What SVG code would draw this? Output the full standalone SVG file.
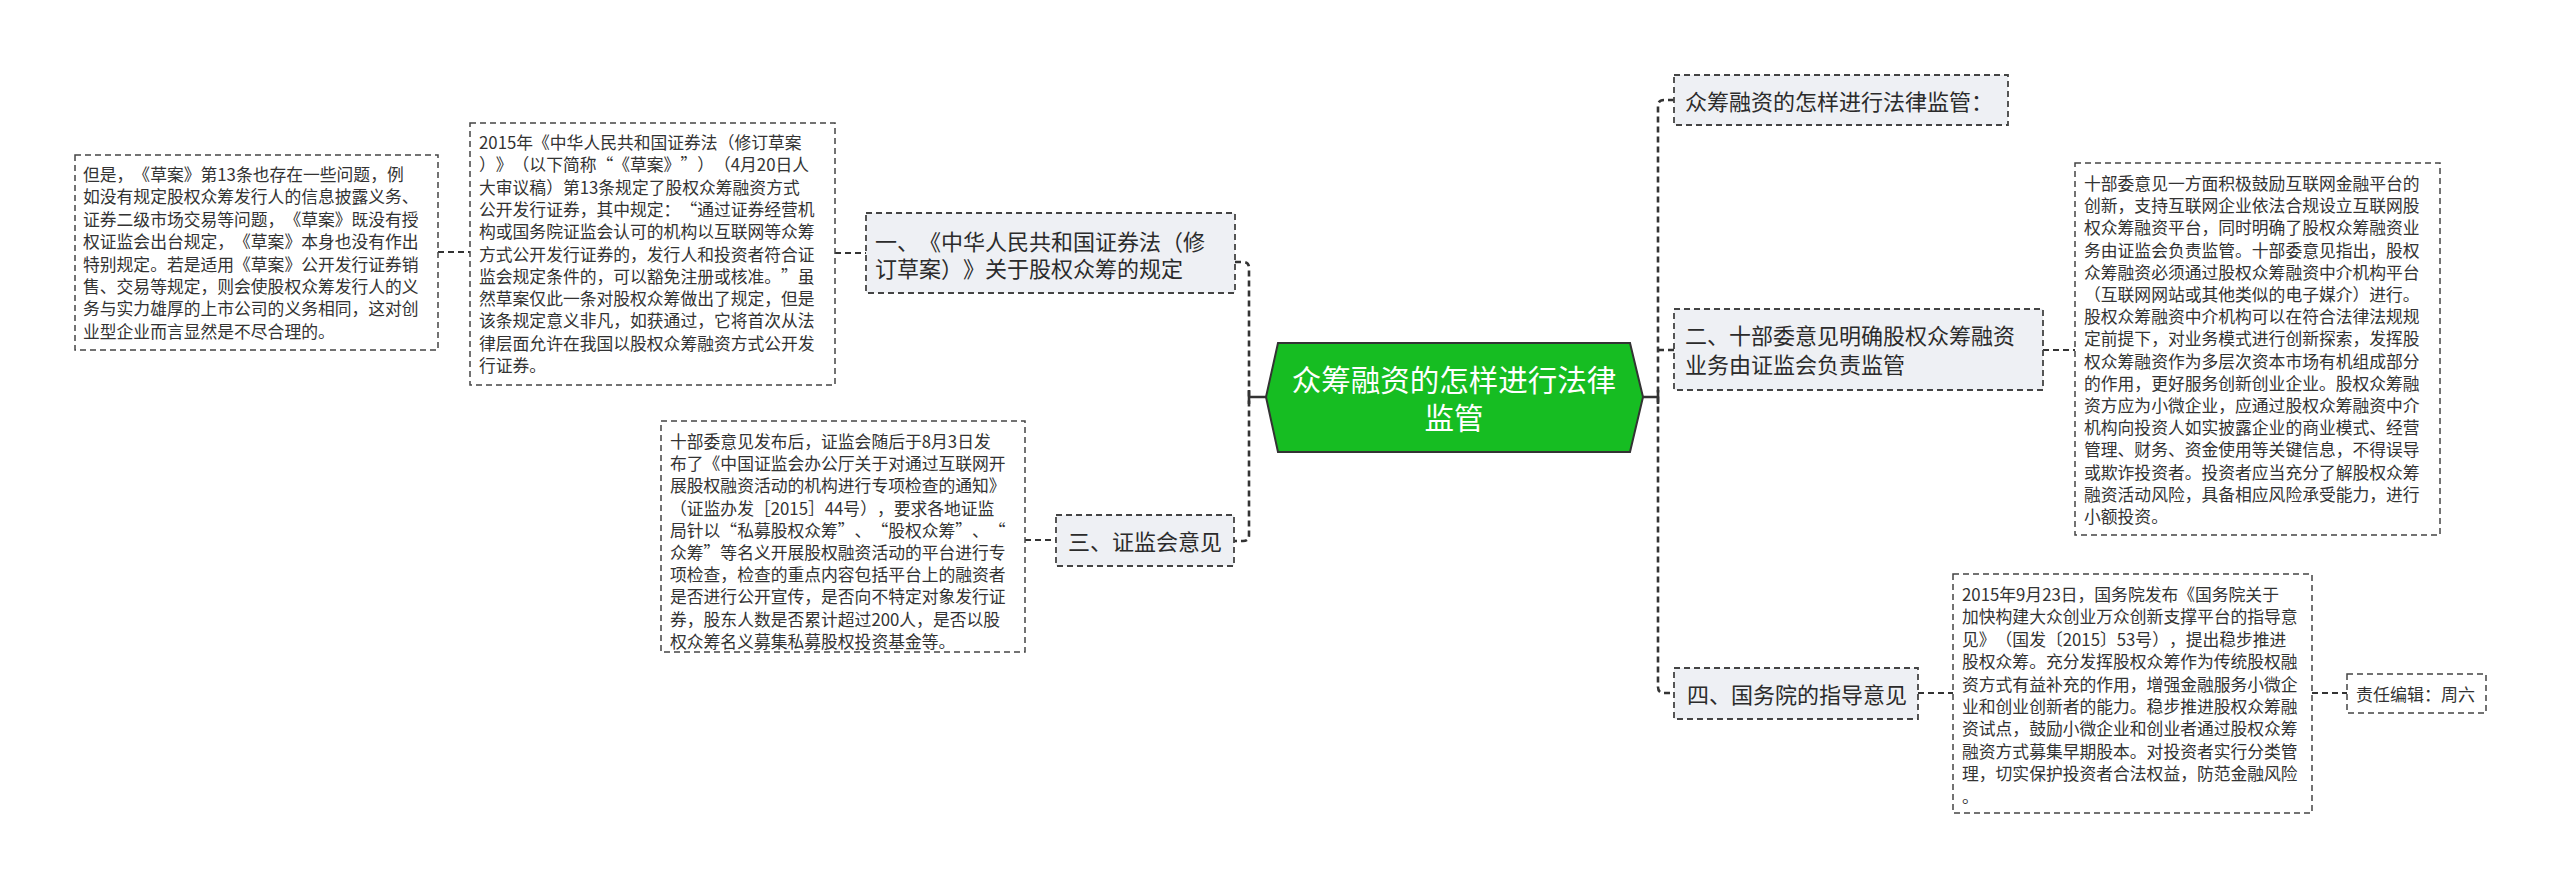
<svg xmlns="http://www.w3.org/2000/svg" width="2560" height="888" viewBox="0 0 2560 888" xml:lang="zh-CN" lang="zh-CN">
<style>
text{font-family:"Noto Sans CJK SC","Noto Sans",sans-serif;text-spacing-trim:space-all;}
.leaf{fill:#ffffff;stroke:#444;stroke-width:1.5;stroke-dasharray:6 4;}
.node{fill:#eef0f4;stroke:#444;stroke-width:1.8;stroke-dasharray:6 4;}
.lt{font-size:16.8px;fill:#333;}
.nt{font-size:22px;fill:#2b2b2b;}
.ct{font-size:29.5px;fill:#ffffff;text-anchor:middle;}
.con{fill:none;stroke:#333;stroke-width:2;stroke-dasharray:6 4;}
.main{fill:none;stroke:#333;stroke-width:2.6;stroke-dasharray:6 4;}
.solid{fill:none;stroke:#333;stroke-width:2.6;}
</style>
<rect width="2560" height="888" fill="#ffffff"/>
<g id="connectors">
<path class="con" d="M438,252 H470"/>
<path class="con" d="M835,253 H866"/>
<path class="main" d="M1235,262 H1243 Q1249,262 1249,268 V535 Q1249,541 1243,541 H1234"/>
<path class="con" d="M1025,540 H1056"/>
<path class="solid" d="M1249,397 H1266 M1249,390 V404"/>
<path class="solid" d="M1643,397 H1658 M1658,390 V404"/>
<path class="main" d="M1674,100 H1664 Q1658,100 1658,106 V687 Q1658,693 1664,693 H1674 M1658,350 H1674"/>
<path class="con" d="M2043,350 H2075"/>
<path class="con" d="M1918,693 H1953"/>
<path class="con" d="M2312,693 H2347"/>
</g>
<g id="center">
<polygon points="1266,397 1278,343 1630,343 1643,397 1630,452 1278,452" fill="#16bd22" stroke="#333" stroke-width="2"/>
<text class="ct" x="1454" y="390.5">众筹融资的怎样进行法律</text>
<text class="ct" x="1454" y="428.5">监管</text>
</g>
<g id="n1">
<rect class="node" x="866" y="213" width="369" height="80"/>
<text class="nt" x="875" y="250">一、《中华人民共和国证券法（修</text>
<text class="nt" x="875" y="277">订草案）》关于股权众筹的规定</text>
</g>
<g id="n1a">
<rect class="leaf" x="470" y="123" width="365" height="262"/>
<text class="lt">
<tspan x="479" y="149">2015年《中华人民共和国证券法（修订草案</tspan>
<tspan x="479" y="171.3">）》（以下简称“《草案》”）（4月20日人</tspan>
<tspan x="479" y="193.6">大审议稿）第13条规定了股权众筹融资方式</tspan>
<tspan x="479" y="215.9">公开发行证券，其中规定：“通过证券经营机</tspan>
<tspan x="479" y="238.2">构或国务院证监会认可的机构以互联网等众筹</tspan>
<tspan x="479" y="260.5">方式公开发行证券的，发行人和投资者符合证</tspan>
<tspan x="479" y="282.8">监会规定条件的，可以豁免注册或核准。”虽</tspan>
<tspan x="479" y="305.1">然草案仅此一条对股权众筹做出了规定，但是</tspan>
<tspan x="479" y="327.4">该条规定意义非凡，如获通过，它将首次从法</tspan>
<tspan x="479" y="349.7">律层面允许在我国以股权众筹融资方式公开发</tspan>
<tspan x="479" y="372">行证券。</tspan>
</text>
</g>
<g id="n1b">
<rect class="leaf" x="75" y="155" width="363" height="195"/>
<text class="lt">
<tspan x="83" y="181">但是，《草案》第13条也存在一些问题，例</tspan>
<tspan x="83" y="203.4">如没有规定股权众筹发行人的信息披露义务、</tspan>
<tspan x="83" y="225.8">证券二级市场交易等问题，《草案》既没有授</tspan>
<tspan x="83" y="248.2">权证监会出台规定，《草案》本身也没有作出</tspan>
<tspan x="83" y="270.6">特别规定。若是适用《草案》公开发行证券销</tspan>
<tspan x="83" y="293">售、交易等规定，则会使股权众筹发行人的义</tspan>
<tspan x="83" y="315.4">务与实力雄厚的上市公司的义务相同，这对创</tspan>
<tspan x="83" y="337.8">业型企业而言显然是不尽合理的。</tspan>
</text>
</g>
<g id="n3">
<rect class="node" x="1056" y="515" width="178" height="51"/>
<text class="nt" x="1068" y="550">三、证监会意见</text>
</g>
<g id="n3a">
<rect class="leaf" x="661" y="421" width="364" height="231"/>
<text class="lt">
<tspan x="670" y="448">十部委意见发布后，证监会随后于8月3日发</tspan>
<tspan x="670" y="470.2">布了《中国证监会办公厅关于对通过互联网开</tspan>
<tspan x="670" y="492.4">展股权融资活动的机构进行专项检查的通知》</tspan>
<tspan x="670" y="514.6">（证监办发［2015］44号），要求各地证监</tspan>
<tspan x="670" y="536.8">局针以“私募股权众筹”、“股权众筹”、“</tspan>
<tspan x="670" y="559">众筹”等名义开展股权融资活动的平台进行专</tspan>
<tspan x="670" y="581.2">项检查，检查的重点内容包括平台上的融资者</tspan>
<tspan x="670" y="603.4">是否进行公开宣传，是否向不特定对象发行证</tspan>
<tspan x="670" y="625.6">券，股东人数是否累计超过200人，是否以股</tspan>
<tspan x="670" y="647.8">权众筹名义募集私募股权投资基金等。</tspan>
</text>
</g>
<g id="n0">
<rect class="node" x="1674" y="75" width="334" height="50"/>
<text class="nt" x="1685" y="110">众筹融资的怎样进行法律监管：</text>
</g>
<g id="n2">
<rect class="node" x="1674" y="309" width="369" height="81"/>
<text class="nt" x="1685" y="344">二、十部委意见明确股权众筹融资</text>
<text class="nt" x="1685" y="373">业务由证监会负责监管</text>
</g>
<g id="n2a">
<rect class="leaf" x="2075" y="163" width="365" height="372"/>
<text class="lt">
<tspan x="2084" y="190">十部委意见一方面积极鼓励互联网金融平台的</tspan>
<tspan x="2084" y="212.2">创新，支持互联网企业依法合规设立互联网股</tspan>
<tspan x="2084" y="234.4">权众筹融资平台，同时明确了股权众筹融资业</tspan>
<tspan x="2084" y="256.6">务由证监会负责监管。十部委意见指出，股权</tspan>
<tspan x="2084" y="278.8">众筹融资必须通过股权众筹融资中介机构平台</tspan>
<tspan x="2084" y="301">（互联网网站或其他类似的电子媒介）进行。</tspan>
<tspan x="2084" y="323.2">股权众筹融资中介机构可以在符合法律法规规</tspan>
<tspan x="2084" y="345.4">定前提下，对业务模式进行创新探索，发挥股</tspan>
<tspan x="2084" y="367.6">权众筹融资作为多层次资本市场有机组成部分</tspan>
<tspan x="2084" y="389.8">的作用，更好服务创新创业企业。股权众筹融</tspan>
<tspan x="2084" y="412">资方应为小微企业，应通过股权众筹融资中介</tspan>
<tspan x="2084" y="434.2">机构向投资人如实披露企业的商业模式、经营</tspan>
<tspan x="2084" y="456.4">管理、财务、资金使用等关键信息，不得误导</tspan>
<tspan x="2084" y="478.6">或欺诈投资者。投资者应当充分了解股权众筹</tspan>
<tspan x="2084" y="500.8">融资活动风险，具备相应风险承受能力，进行</tspan>
<tspan x="2084" y="523">小额投资。</tspan>
</text>
</g>
<g id="n4">
<rect class="node" x="1674" y="668" width="244" height="51"/>
<text class="nt" x="1687" y="703">四、国务院的指导意见</text>
</g>
<g id="n4a">
<rect class="leaf" x="1953" y="574" width="359" height="239"/>
<text class="lt">
<tspan x="1962" y="601">2015年9月23日，国务院发布《国务院关于</tspan>
<tspan x="1962" y="623.4">加快构建大众创业万众创新支撑平台的指导意</tspan>
<tspan x="1962" y="645.8">见》（国发〔2015〕53号），提出稳步推进</tspan>
<tspan x="1962" y="668.2">股权众筹。充分发挥股权众筹作为传统股权融</tspan>
<tspan x="1962" y="690.6">资方式有益补充的作用，增强金融服务小微企</tspan>
<tspan x="1962" y="713">业和创业创新者的能力。稳步推进股权众筹融</tspan>
<tspan x="1962" y="735.4">资试点，鼓励小微企业和创业者通过股权众筹</tspan>
<tspan x="1962" y="757.8">融资方式募集早期股本。对投资者实行分类管</tspan>
<tspan x="1962" y="780.2">理，切实保护投资者合法权益，防范金融风险</tspan>
<tspan x="1962" y="802.6">。</tspan>
</text>
</g>
<g id="n4b">
<rect class="leaf" x="2347" y="674" width="139" height="39"/>
<text class="lt" x="2356" y="701" style="font-size:17px">责任编辑：周六</text>
</g>
</svg>
